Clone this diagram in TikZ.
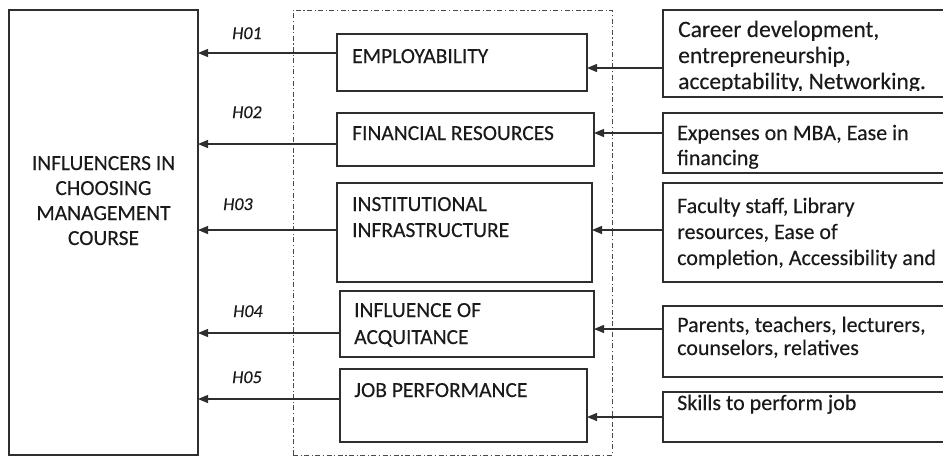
\documentclass[tikz,border=0pt]{standalone}
\usepackage{fontspec}
\setmainfont{Carlito}[FakeBold=0.2, ItalicFeatures={FakeBold=0.2}]
\usetikzlibrary{arrows.meta}
% multi-line text blocks whose baseline is the first line
\newcommand\stackl[1]{\begin{tabular}[t]{@{}l@{}}#1\end{tabular}}
\newcommand\stackc[1]{\begin{tabular}[t]{@{}c@{}}#1\end{tabular}}
\definecolor{ink}{HTML}{1A1A1A}
\definecolor{edge}{HTML}{2E2E2E}
\definecolor{framec}{HTML}{4A4A4A}
\begin{document}
\begin{tikzpicture}[x=1pt,y=-1pt,
  box/.style={draw=edge, line width=1.3pt, fill=white, anchor=north west,
    inner sep=0pt, outer sep=0pt},
  groupframe/.style={draw=framec, line width=0.9pt,
    dash pattern=on 5pt off 2.5pt on 1.2pt off 2.5pt, anchor=north west,
    inner sep=0pt, outer sep=0pt},
  txt/.style={font=\fontsize{21.5}{26}\selectfont, text=ink, inner sep=0pt,
    anchor=base west},
  rtxt/.style={txt, font=\fontsize{22}{26}\selectfont},
  hyp/.style={font=\fontsize{18}{22}\selectfont\itshape, text=ink,
    inner sep=0pt, anchor=base west},
  arr/.style={draw=edge, line width=1.2pt, -{Triangle[length=10pt,width=8pt]}}
]
\useasboundingbox (0,0) rectangle (943,456);
\clip (0,0) rectangle (943,456);

% dash-dot frame around the five constructs
\node[groupframe, minimum width=319pt, minimum height=445pt] (grp) at (293,10) {};

% dependent variable
\node[box, minimum width=189pt, minimum height=445pt] (dv) at (9,10) {};
\node[txt, font=\fontsize{21.5}{25}\selectfont, anchor=base] (dvt) at (103.5,170)
  {\stackc{INFLUENCERS IN\\CHOOSING\\MANAGEMENT\\COURSE}};

% constructs
\node[box, minimum width=250pt, minimum height=57pt] (m1) at (337,34) {};
\node[box, minimum width=257pt, minimum height=53pt] (m2) at (337,113) {};
\node[box, minimum width=255pt, minimum height=99pt] (m3) at (337,183) {};
\node[box, minimum width=254pt, minimum height=66pt] (m4) at (340,291) {};
\node[box, minimum width=247pt, minimum height=73pt] (m5) at (340,369) {};

\node[txt] (m1t) at (352,63) {EMPLOYABILITY};
\node[txt] (m2t) at (352,140) {FINANCIAL RESOURCES};
\node[txt] (m3t) at (352,211) {\stackl{INSTITUTIONAL\\INFRASTRUCTURE}};
\node[txt, font=\fontsize{21.5}{27}\selectfont] (m4t) at (354,317) {\stackl{INFLUENCE OF\\ACQUITANCE}};
\node[txt] (m5t) at (354,397) {JOB PERFORMANCE};

% indicators
\node[box, minimum width=300pt, minimum height=87pt] (r1) at (663,10) {};
\node[box, minimum width=300pt, minimum height=60pt] (r2) at (663,113) {};
\node[box, minimum width=300pt, minimum height=99pt] (r3) at (663,183) {};
\node[box, minimum width=300pt, minimum height=71pt] (r4) at (663,306) {};
\node[box, minimum width=300pt, minimum height=50pt] (r5) at (663,392) {};

\begin{scope}
  % the last line runs into the lower border of its box
  \clip (663,10) rectangle (943,90);
  \node[rtxt, font=\fontsize{23.5}{26}\selectfont] (r1t) at (678,37)
    {\stackl{Career development,\\entrepreneurship,\\acceptability, Networking.}};
\end{scope}
\node[rtxt, font=\fontsize{22}{25}\selectfont] (r2t) at (677,140)
  {\stackl{Expenses on MBA, Ease in\\financing}};
\node[rtxt] (r3t) at (677,213)
  {\stackl{Faculty staff, Library\\resources, Ease of\\completion, Accessibility and}};
\node[rtxt, font=\fontsize{22}{23}\selectfont] (r4t) at (677,332)
  {\stackl{Parents, teachers, lecturers,\\counselors, relatives}};
\node[rtxt] (r5t) at (677,410) {Skills to perform job};

% hypotheses: constructs -> dependent variable
\draw[arr] (m1.west |- 0,53)  -- (dv.east |- 0,53);
\draw[arr] (m2.west |- 0,144) -- (dv.east |- 0,144);
\draw[arr] (m3.west |- 0,230) -- (dv.east |- 0,230);
\draw[arr] (m4.west |- 0,333) -- (dv.east |- 0,333);
\draw[arr] (m5.west |- 0,399) -- (dv.east |- 0,399);

\node[hyp] (h1) at (232,39)  {H01};
\node[hyp] (h2) at (232,118) {H02};
\node[hyp] (h3) at (223,210) {H03};
\node[hyp] (h4) at (233,317) {H04};
\node[hyp] (h5) at (232,383) {H05};

% indicators -> constructs
\draw[arr] (r1.west |- 0,68)  -- (m1.east |- 0,68);
\draw[arr] (r2.west |- 0,133) -- (m2.east |- 0,133);
\draw[arr] (r3.west |- 0,230) -- (m3.east |- 0,230);
\draw[arr] (r4.west |- 0,329) -- (m4.east |- 0,329);
\draw[arr] (r5.west |- 0,417) -- (m5.east |- 0,417);
\end{tikzpicture}
\end{document}
